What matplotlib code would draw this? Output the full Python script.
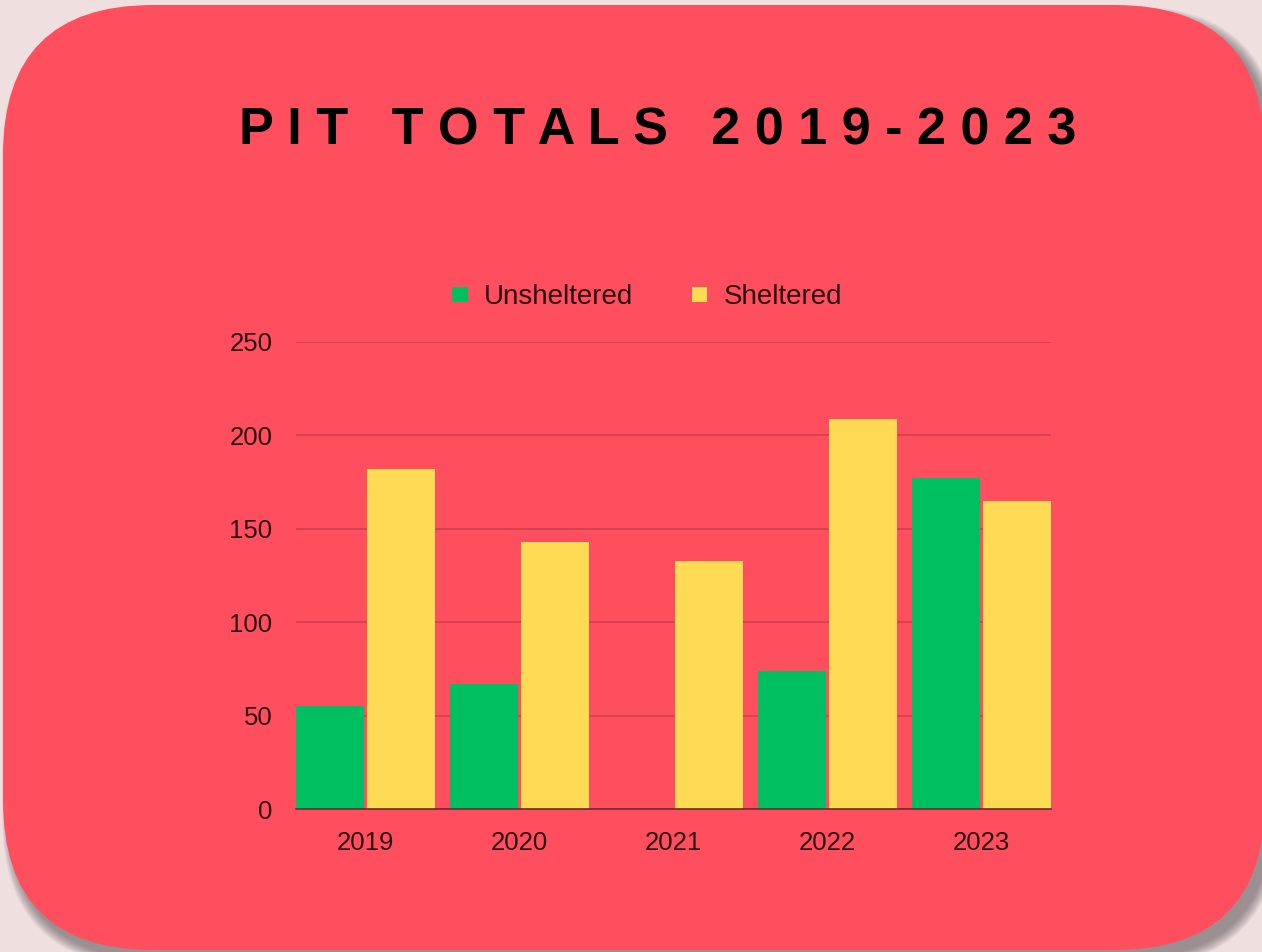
import numpy as np
import matplotlib.pyplot as plt
from matplotlib.patches import FancyBboxPatch

# ============================================================
#   DATA
# ============================================================
years = ["2019", "2020", "2021", "2022", "2023"]
unsheltered = [55, 67, 0, 74, 177]
sheltered = [182, 143, 133, 209, 165]
y_ticks = [0, 50, 100, 150, 200, 250]

PAGE = "#efdfdf"
CARD = "#ff4f5e"
GREEN = "#00bf60"
YELLOW = "#ffda55"
GRID = "#c9434e"
TEXT = "#2a0d12"

W, H = 1262, 952
fig = plt.figure(figsize=(W / 100, H / 100), dpi=100)
fig.patch.set_facecolor(PAGE)

# ============================================================
#   BACKGROUND CARD (pixel coordinates)
# ============================================================
bg = fig.add_axes([0, 0, 1, 1])
bg.set_xlim(0, W)
bg.set_ylim(H, 0)
bg.axis("off")

# soft shadow towards bottom right
for i in range(16):
    grow = 16 - i
    bg.add_patch(FancyBboxPatch(
        (3 + 7 - grow / 2, 5 + 9 - grow / 2), 1262 + grow, 945 + grow,
        boxstyle="round,pad=0,rounding_size=150",
        facecolor="#4a4548", edgecolor="none", alpha=0.04))

bg.add_patch(FancyBboxPatch(
    (3, 5), 1262, 945, boxstyle="round,pad=0,rounding_size=150",
    facecolor=CARD, edgecolor="none"))

title = fig.text(0.521, 0.862, "P I T   T O T A L S   2 0 1 9 - 2 0 2 3",
                 ha="center", va="center", fontsize=37.5, fontweight="bold",
                 family="Liberation Sans", color="black")

# ============================================================
#   BAR CHART
# ============================================================
ax = fig.add_axes([0.2346, 0.1502, 0.5982, 0.4906])
ax.set_facecolor("none")

x = np.arange(len(years))
bw = 0.44
ax.bar(x - 0.23, unsheltered, bw, color=GREEN, label="Unsheltered", zorder=3)
ax.bar(x + 0.23, sheltered, bw, color=YELLOW, label="Sheltered", zorder=3)

ax.set_xlim(-0.45, 4.45)
ax.set_ylim(0, 250)
ax.set_yticks(y_ticks)
ax.set_xticks(x)
ax.set_xticklabels(years)
ax.yaxis.grid(True, color=GRID, linewidth=1.2, zorder=0)
ax.set_axisbelow(True)

for side in ["top", "right", "left"]:
    ax.spines[side].set_visible(False)
ax.spines["bottom"].set_color("#6a2b33")
ax.spines["bottom"].set_linewidth(1.2)
ax.spines["bottom"].set_zorder(4)

ax.tick_params(axis="both", length=0, labelsize=18.5, colors=TEXT)
ax.tick_params(axis="y", pad=17)
ax.tick_params(axis="x", pad=15.5)
for lbl in ax.get_xticklabels() + ax.get_yticklabels():
    lbl.set_family("Liberation Sans")

leg = fig.legend(loc="center", bbox_to_anchor=(0.513, 0.688), ncol=2, frameon=False,
                 handlelength=0.55, handleheight=0.45, handletextpad=0.6,
                 columnspacing=2.1, prop={"family": "Liberation Sans", "size": 20})
for t in leg.get_texts():
    t.set_color(TEXT)

fig.savefig("out.png", dpi=100, facecolor=PAGE)
